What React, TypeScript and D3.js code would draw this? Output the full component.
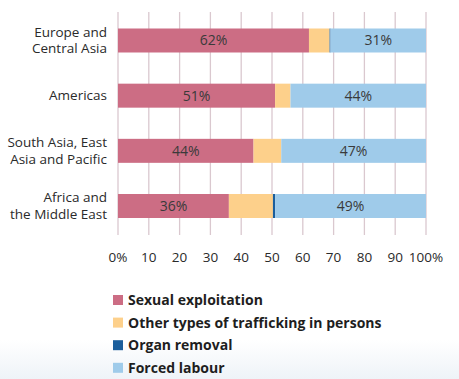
import React from "react";
import * as d3 from "d3";

const categories = ["Europe and\nCentral Asia", "Americas", "South Asia, East\nAsia and Pacific", "Africa and\nthe Middle East"];
const sexualExploitation = [62, 51, 44, 36];
const otherTypes = [6.7, 5, 9, 14.3];
const organRemoval = [0.3, 0, 0, 0.7];
const forcedLabour = [31, 44, 47, 49];
const seriesNames = ["Sexual exploitation", "Other types of trafficking in persons", "Organ removal", "Forced labour"];
const seriesColors = ["#cc6d84", "#fdd08b", "#1b5e9c", "#9fcbea"];
const tickValues = [0, 10, 20, 30, 40, 50, 60, 70, 80, 90, 100];
const tickLabels = ["0%", "10", "20", "30", "40", "50", "60", "70", "80", "90", "100%"];

const W = 459, H = 379;
const font = "'Open Sans', 'Noto Sans', sans-serif";

export default function App() {
  const x = d3.scaleLinear().domain([0, 100]).range([118, 426]);
  const y = d3.scaleBand().domain(categories).range([12.5, 234]).paddingInner(0.565).paddingOuter(0.29);
  const table = categories.map((c, i) => ({ cat: c, s0: sexualExploitation[i], s1: otherTypes[i], s2: organRemoval[i], s3: forcedLabour[i] }));
  const stack = d3.stack<any>().keys(["s0", "s1", "s2", "s3"]);
  const layers = stack(table);
  return (
    <svg width={W} height={H} style={{ position: "absolute", left: 0, top: 0, background: "#fff" }} fontFamily={font}>
      <defs>
        <linearGradient id="bg" x1="0" y1="0" x2="0" y2="1">
          <stop offset="0" stopColor="#ffffff" />
          <stop offset="1" stopColor="#eef3f8" />
        </linearGradient>
      </defs>
      <rect x={0} y={340} width={W} height={39} fill="url(#bg)" />
      {tickValues.map((t) => (
        <line key={t} x1={x(t)} x2={x(t)} y1={12} y2={235} stroke="#dac8cf" strokeWidth={1.3} />
      ))}
      {layers.map((layer, li) =>
        layer.map((d, i) => (
          <rect key={li + "-" + i} x={x(d[0])} y={y(categories[i])} width={Math.max(0, x(d[1]) - x(d[0]))} height={y.bandwidth()} fill={seriesColors[li]} />
        ))
      )}
      {table.map((d, i) => {
        const cy = (y(d.cat) as number) + y.bandwidth() / 2;
        return (
          <g key={"lab" + i} fontSize={14} fill="#3a3a3a" textAnchor="middle">
            <text x={x(d.s0 / 2)} y={cy} dy="0.35em">{d.s0}%</text>
            <text x={x(100 - d.s3 / 2)} y={cy} dy="0.35em">{d.s3}%</text>
          </g>
        );
      })}
      {categories.map((c, i) => {
        const lines = c.split("\n");
        const cy = (y(c) as number) + y.bandwidth() / 2;
        const lh = 16.5;
        return (
          <g key={"cat" + i} fontSize={13.5} fill="#2a2a2a" textAnchor="end">
            {lines.map((l, j) => (
              <text key={j} x={107} y={cy - ((lines.length - 1) * lh) / 2 + j * lh} dy="0.35em">{l}</text>
            ))}
          </g>
        );
      })}
      {tickValues.map((t, i) => (
        <text key={"t" + t} x={x(t)} y={257} dy="0.35em" fontSize={13.5} fill="#2a2a2a" textAnchor="middle">{tickLabels[i]}</text>
      ))}
      {seriesNames.map((n, i) => (
        <g key={"leg" + i} transform={`translate(113, ${300 + i * 22.6})`}>
          <rect x={0} y={-5} width={10} height={10} fill={seriesColors[i]} />
          <text x={15} y={0} dy="0.35em" fontSize={14} fontWeight="bold" fill="#1e1e1e">{n}</text>
        </g>
      ))}
    </svg>
  );
}
